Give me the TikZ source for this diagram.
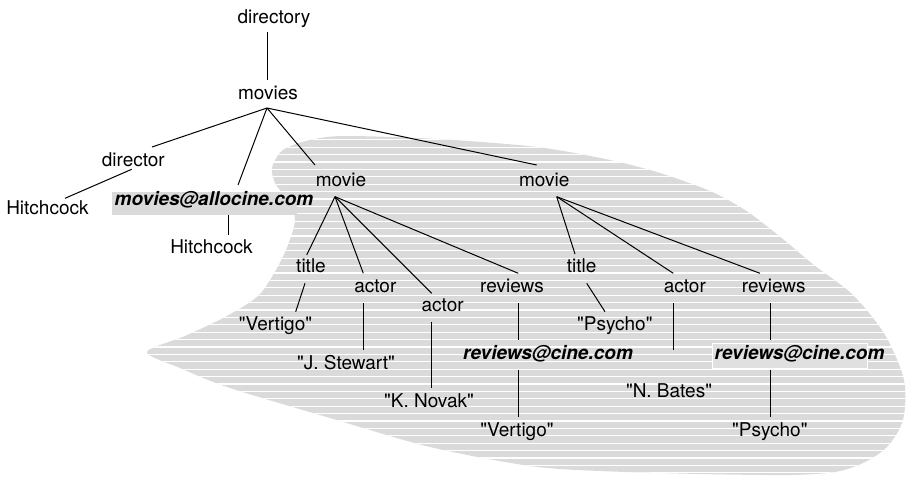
\documentclass[tikz,border=0pt]{standalone}
\usepackage{fontspec}
\setmainfont{TeX Gyre Heros}
\newcommand\dq{\textquotedbl}
\begin{document}
\definecolor{stripegray}{HTML}{DADADA}
\definecolor{boxgray}{HTML}{E0E0E0}
\begin{tikzpicture}[x=1pt,y=-1pt,
  lbl/.style={anchor=base,inner sep=0pt,font=\fontsize{19}{22}\selectfont},
  url/.style={lbl,font=\fontsize{19}{22}\selectfont\bfseries\itshape},
  link/.style={line width=1pt,black}]
\useasboundingbox (0,0) rectangle (908,477);

% shaded region holding the movie sub-trees
\def\regionpath{plot[smooth cycle,tension=0.5] coordinates {
  (147,352) (185,336) (225,317) (258,296) (276,270) (288,245) (295,220)
  (289,200) (276,185) (272,168) (283,150) (310,140) (345,136) (437,139)
  (537,147) (610,160) (660,173) (710,191) (745,210) (778,235) (814,265)
  (853,295) (885,335) (904,380) (903,420) (887,447) (863,463) (835,472)
  (790,475) (700,474) (600,471) (530,466) (430,447) (330,418) (230,388)
  (180,368)}}
\fill[stripegray] \regionpath;
\begin{scope}
  \clip \regionpath;
  \foreach \y in {132.4,139.8,...,480}
    \draw[white,line width=1.3pt] (100,\y) -- (908,\y);
\end{scope}

% highlighted backgrounds behind the addresses
\fill[stripegray] (112,192) rectangle (297,215);
\filldraw[fill=boxgray,draw=white,line width=0.8pt] (712,343) rectangle (867,368);

% labels
\node[lbl] (directory) at (274,23.5) {directory};
\node[lbl] (movies) at (268,99.3) {movies};
\node[lbl] (director) at (133.3,166.7) {director};
\node[lbl] (hitchA) at (47.5,214) {Hitchcock};
\node[url] (allocine) at (214,205) {movies@allocine.com};
\node[lbl] (hitchB) at (211.5,253.3) {Hitchcock};
\node[lbl] (movieA) at (341,186) {movie};
\node[lbl] (movieB) at (544.3,186) {movie};
\node[lbl] (titleA) at (311,272) {title};
\node[lbl] (actorA) at (375.3,292.7) {actor};
\node[lbl] (actorB) at (442.7,311.7) {actor};
\node[lbl] (reviewsA) at (512,292.7) {reviews};
\node[lbl] (vertigoA) at (275.5,330) {\dq Vertigo\dq};
\node[lbl] (stewart) at (346,369.3) {\dq J. Stewart\dq};
\node[lbl] (novak) at (429,407.7) {\dq K. Novak\dq};
\node[url] (cineA) at (548,359.3) {reviews@cine.com};
\node[lbl] (vertigoB) at (517,436) {\dq Vertigo\dq};
\node[lbl] (titleB) at (581.7,272.3) {title};
\node[lbl] (actorC) at (684.8,292.7) {actor};
\node[lbl] (reviewsB) at (773.7,292.7) {reviews};
\node[lbl] (psychoA) at (614.8,330) {\dq Psycho\dq};
\node[url] (cineB) at (799.5,359.3) {reviews@cine.com};
\node[lbl] (bates) at (669,397.7) {\dq N. Bates\dq};
\node[lbl] (psychoB) at (769.8,436.7) {\dq Psycho\dq};

% connectors
\draw[link] ([shift={(-7,8.2)}]directory.base) -- ([shift={(-1,-19.3)}]movies.base);
\draw[link] ([shift={(-1,8.7)}]movies.base) -- ([shift={(18.7,-19.7)}]director.base);
\draw[link] ([shift={(-1,8.7)}]movies.base) -- ([shift={(24,-20)}]allocine.base);
\draw[link] ([shift={(-1,8.7)}]movies.base) -- ([shift={(-26,-21)}]movieA.base);
\draw[link] ([shift={(-1,8.7)}]movies.base) -- ([shift={(-7.6,-21)}]movieB.base);
\draw[link] ([shift={(-1.6,2.6)}]director.base) -- ([shift={(17.5,-15.7)}]hitchA.base);
\draw[link] ([shift={(14,10)}]allocine.base) -- ([shift={(16.5,-18.3)}]hitchB.base);

\draw[link] ([shift={(-6,10.7)}]movieA.base) -- ([shift={(-4.3,-17)}]titleA.base);
\draw[link] ([shift={(-6,10.7)}]movieA.base) -- ([shift={(-12,-19.4)}]actorA.base);
\draw[link] ([shift={(-6,10.7)}]movieA.base) -- ([shift={(-11,-18.4)}]actorB.base);
\draw[link] ([shift={(-6,10.7)}]movieA.base) -- ([shift={(6.3,-19.4)}]reviewsA.base);
\draw[link] ([shift={(-6,11.3)}]titleA.base) -- ([shift={(20.2,-18.3)}]vertigoA.base);
\draw[link] ([shift={(-12,10.6)}]actorA.base) -- ([shift={(17.3,-19.3)}]stewart.base);
\draw[link] ([shift={(-11,10)}]actorB.base) -- ([shift={(2.7,-19.4)}]novak.base);
\draw[link] ([shift={(6.3,10.6)}]reviewsA.base) -- ([shift={(-29.7,-19.3)}]cineA.base);
\draw[link] ([shift={(-29.7,10.7)}]cineA.base) -- ([shift={(1.3,-19.3)}]vertigoB.base);

\draw[link] ([shift={(12.4,10.7)}]movieB.base) -- ([shift={(-6.7,-18.3)}]titleB.base);
\draw[link] ([shift={(12.4,10.7)}]movieB.base) -- ([shift={(-11.5,-19.4)}]actorC.base);
\draw[link] ([shift={(12.4,10.7)}]movieB.base) -- ([shift={(-13.7,-19.4)}]reviewsB.base);
\draw[link] ([shift={(5,11)}]titleB.base) -- ([shift={(-9.8,-18.3)}]psychoA.base);
\draw[link] ([shift={(-11.5,10.6)}]actorC.base) -- ([shift={(4.3,-47.7)}]bates.base);
\draw[link] ([shift={(-3.7,10.6)}]reviewsB.base) -- ([shift={(-29.5,-19.3)}]cineB.base);
\draw[link] ([shift={(-29.5,10.7)}]cineB.base) -- ([shift={(0.2,-20)}]psychoB.base);
\end{tikzpicture}
\end{document}
